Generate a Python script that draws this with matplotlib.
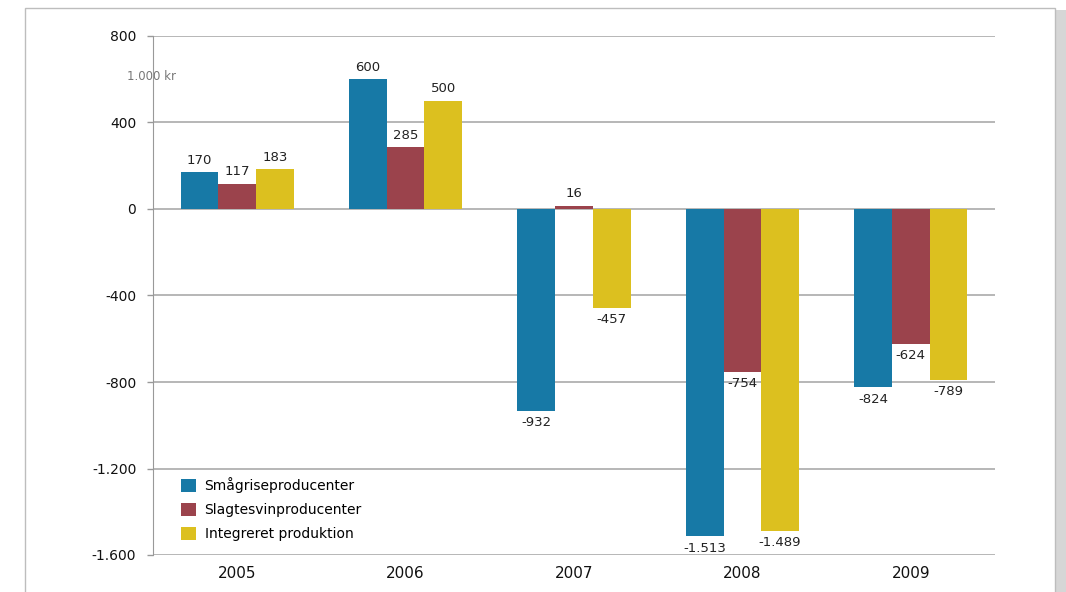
import matplotlib.pyplot as plt
import numpy as np
from matplotlib.patches import Rectangle

years = ["2005", "2006", "2007", "2008", "2009"]
series_names = ["Smågriseproducenter", "Slagtesvinproducenter", "Integreret produktion"]
smagrise = [170, 600, -932, -1513, -824]
slagtesvin = [117, 285, 16, -754, -624]
integreret = [183, 500, -457, -1489, -789]
y_ticks = [800, 400, 0, -400, -800, -1200, -1600]
y_tick_labels = ["800", "400", "0", "-400", "-800", "-1.200", "-1.600"]

colors = ["#1779a6", "#9b434c", "#dcc01f"]


def fmt(v):
    s = f"{abs(v):,}".replace(",", ".")
    return ("-" if v < 0 else "") + s


fig = plt.figure(figsize=(10.66, 5.92), dpi=100)

# page frame with a soft shadow on the right
fig.patches.append(Rectangle((1056 / 1066, 0), 10 / 1066, 1 - 10 / 592,
                             transform=fig.transFigure, facecolor="#d6d6d6",
                             edgecolor="none", zorder=0))
fig.patches.append(Rectangle((25 / 1066, -0.05), 1030 / 1066, 1.05 - 8 / 592,
                             transform=fig.transFigure, facecolor="white",
                             edgecolor="#bdbdbd", lw=1, zorder=1))

ax = fig.add_axes([153 / 1066, 1 - 555 / 592, 842 / 1066, 519 / 592])
ax.set_zorder(2)
ax.patch.set_alpha(0)

x = np.arange(len(years))
w = 0.224
for i, (name, vals) in enumerate(zip(series_names, [smagrise, slagtesvin, integreret])):
    pos = x + (i - 1) * w
    ax.bar(pos, vals, width=w, color=colors[i], label=name, zorder=3)
    for px, v in zip(pos, vals):
        if v >= 0:
            ax.text(px, v + 25, fmt(v), ha="center", va="bottom", fontsize=9.5,
                    color="#222222", zorder=4)
        else:
            ax.text(px, v - 25, fmt(v), ha="center", va="top", fontsize=9.5,
                    color="#222222", zorder=4)

ax.set_xlim(-0.5, 4.5)
ax.set_ylim(-1600, 800)
ax.set_yticks(y_ticks)
ax.set_yticklabels(y_tick_labels)
ax.set_xticks(x)
ax.set_xticklabels(years)
ax.tick_params(axis="y", length=4, width=1, color="#999999", labelsize=10,
               pad=8, labelcolor="#111111")
ax.tick_params(axis="x", length=0, labelsize=11, pad=8, labelcolor="#111111")
ax.grid(axis="y", color="#aaaaaa", lw=1.2, zorder=1)
for side in ["top", "right", "bottom"]:
    ax.spines[side].set_visible(False)
ax.spines["left"].set_color("#999999")
ax.spines["left"].set_zorder(5)

ax.text(127 / 1066, 1 - 77 / 592, "1.000 kr", transform=fig.transFigure,
        fontsize=8.5, color="#777777", va="center", ha="left")

ax.legend(loc="lower left", bbox_to_anchor=(0.02, 0.005), frameon=False,
          fontsize=10, handlelength=1.1, handleheight=1.1, handletextpad=0.6,
          labelspacing=0.7, borderpad=0.3)

fig.savefig("out.png", dpi=100)
